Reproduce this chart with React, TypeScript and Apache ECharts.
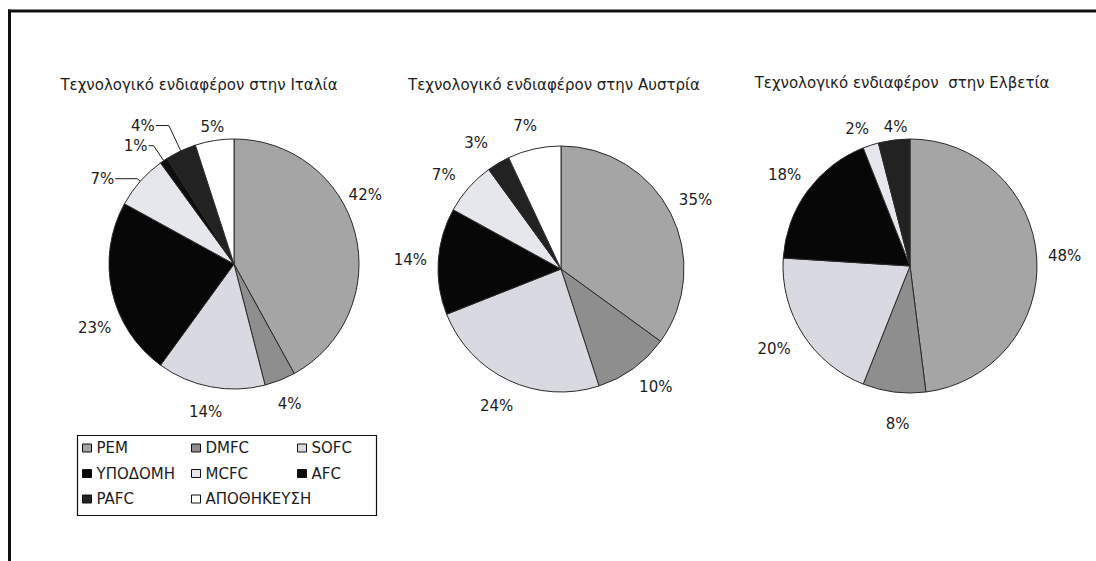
import React, { useEffect, useRef } from 'react';
import * as echarts from 'echarts';

const categories = ['PEM', 'DMFC', 'SOFC', 'ΥΠΟΔΟΜΗ', 'MCFC', 'AFC', 'PAFC', 'ΑΠΟΘΗΚΕΥΣΗ'];
const italyValues = [42, 4, 14, 23, 7, 1, 4, 5];
const austriaValues = [35, 10, 24, 14, 7, 0, 3, 7];
const switzerlandValues = [48, 8, 20, 18, 2, 0, 4, 0];
const chartTitles = [
  'Τεχνολογικό ενδιαφέρον στην Ιταλία',
  'Τεχνολογικό ενδιαφέρον στην Αυστρία',
  'Τεχνολογικό ενδιαφέρον  στην Ελβετία',
];
const legendColumns = [
  ['PEM', 'ΥΠΟΔΟΜΗ', 'PAFC'],
  ['DMFC', 'MCFC', 'ΑΠΟΘΗΚΕΥΣΗ'],
  ['SOFC', 'AFC'],
];

const sliceColors = ['#a5a5a5', '#8e8e8e', '#d9dae1', '#070707', '#e6e7ec', '#0d0d0d', '#222222', '#ffffff'];
const FONT = 'DejaVu Sans, Arial, sans-serif';
const TEXT = '#1c1c1c';
const LABEL_SIZE = 15;

// label style tweaks (moved labels, leader lines) – styling only
const italyLabelOffsets: Record<string, number[]> = {
  PEM: [-15, -31],
  'ΥΠΟΔΟΜΗ': [8, 31],
  'ΑΠΟΘΗΚΕΥΣΗ': [2, 12],
};
const italyLeaders: Record<string, number[]> = {
  MCFC: [4, 22],
  AFC: [18, 5],
  PAFC: [28, 13],
};
const austriaLabelOffsets: Record<string, number[]> = {
  MCFC: [-4, 6],
  PAFC: [-8, 4],
  'ΑΠΟΘΗΚΕΥΣΗ': [-3, 4],
  DMFC: [6, -4],
};
const switzerlandLabelOffsets: Record<string, number[]> = {
  MCFC: [-5, 10],
  PAFC: [5, 15],
  DMFC: [7, 4],
  SOFC: [-5, 0],
};

const pieLayouts = [
  { values: italyValues, center: [234, 264], r: 125, lr: 148, titleX: 199, titleY: 77, offsets: italyLabelOffsets, leaders: italyLeaders },
  { values: austriaValues, center: [561, 269], r: 123, lr: 148, titleX: 554, titleY: 77, offsets: austriaLabelOffsets, leaders: {} },
  { values: switzerlandValues, center: [910, 266], r: 127, lr: 152, titleX: 902, titleY: 75, offsets: switzerlandLabelOffsets, leaders: {} },
];

const labelText = { fontSize: LABEL_SIZE, fontFamily: FONT, color: TEXT };

export default function App() {
  const ref = useRef<HTMLDivElement>(null);
  useEffect(() => {
    document.body.style.margin = '0';
    const chart = echarts.init(ref.current!, undefined, { renderer: 'svg' });
    const series: any[] = [];
    pieLayouts.forEach((p) => {
      const leaders = p.leaders as Record<string, number[]>;
      series.push({
        type: 'pie',
        center: p.center,
        radius: [0, p.r],
        startAngle: 90,
        clockwise: true,
        silent: true,
        avoidLabelOverlap: false,
        label: { show: false },
        labelLine: { show: false },
        itemStyle: { borderColor: '#2a2a2a', borderWidth: 1 },
        emphasis: { disabled: true },
        data: categories
          .map((name, i) => {
            const item: any = { name, value: p.values[i], itemStyle: { color: sliceColors[i] } };
            if (leaders[name]) {
              item.label = { show: true, position: 'outside', formatter: '{c}%', ...labelText, distanceToLabelLine: 1 };
              item.labelLine = {
                show: true,
                length: leaders[name][0],
                length2: leaders[name][1],
                lineStyle: { color: '#1c1c1c', width: 1 },
              };
            }
            return item;
          })
          .filter((d) => d.value > 0),
      });
    });
    pieLayouts.forEach((p) => {
      const leaders = p.leaders as Record<string, number[]>;
      const offsets = p.offsets as Record<string, number[]>;
      series.push({
        type: 'pie',
        center: p.center,
        radius: [p.lr - 2, p.lr + 2],
        startAngle: 90,
        clockwise: true,
        silent: true,
        legendHoverLink: false,
        label: {
          show: true,
          position: 'inside',
          rotate: 0,
          formatter: '{c}%',
          ...labelText,
        },
        labelLine: { show: false },
        labelLayout: { hideOverlap: false },
        itemStyle: { borderWidth: 0 },
        emphasis: { disabled: true },
        data: categories
          .map((name, i) => {
            const item: any = { name, value: p.values[i], itemStyle: { color: 'rgba(0,0,0,0)' } };
            if (leaders[name]) item.label = { show: false };
            else if (offsets[name]) item.label = { offset: offsets[name] };
            return item;
          })
          .filter((d) => d.value > 0),
      });
    });
    const legendLefts = [82, 191, 297];
    chart.setOption({
      animation: false,
      backgroundColor: '#ffffff',
      title: pieLayouts.map((p, i) => ({
        text: chartTitles[i],
        left: p.titleX,
        top: p.titleY,
        textAlign: 'center',
        padding: 0,
        textStyle: { fontSize: 15, fontWeight: 'normal', fontFamily: FONT, color: TEXT },
      })),
      legend: legendColumns.map((col, i) => ({
        data: col,
        orient: 'vertical',
        left: legendLefts[i],
        top: 440,
        padding: 0,
        icon: 'rect',
        itemWidth: 9,
        itemHeight: 8,
        itemGap: 9.5,
        selectedMode: false,
        itemStyle: { borderColor: '#111111', borderWidth: 1 },
        textStyle: { fontSize: 15, fontFamily: FONT, color: TEXT, lineHeight: 16 },
      })),
      graphic: [
        { type: 'line', shape: { x1: 9.5, y1: 9.5, x2: 9.5, y2: 561 }, style: { stroke: '#111111', lineWidth: 3 } },
        { type: 'line', shape: { x1: 8, y1: 11, x2: 1096, y2: 11 }, style: { stroke: '#111111', lineWidth: 3 } },
        {
          type: 'rect',
          shape: { x: 77.5, y: 435.5, width: 299, height: 80 },
          style: { fill: 'none', stroke: '#111111', lineWidth: 1.2 },
        },
      ],
      series,
    });
    return () => chart.dispose();
  }, []);
  return <div ref={ref} style={{ width: 1096, height: 561 }} />;
}
